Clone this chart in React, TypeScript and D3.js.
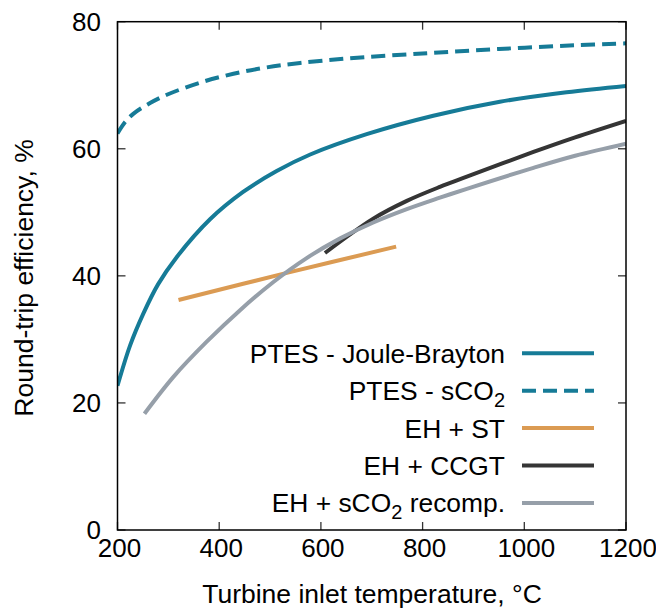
import React from "react";
import * as d3 from "d3";

const jbT = [200, 225, 251, 280, 316, 382, 447, 513, 579, 690, 821, 952, 1083, 1200];
const jbV = [22.7, 29.1, 34.1, 38.7, 42.9, 48.9, 53.2, 56.5, 59.1, 62.3, 65.2, 67.4, 68.9, 69.9];

const sco2T = [200, 215, 231, 264, 297, 362, 428, 493, 559, 651, 800, 950, 1100, 1200];
const sco2V = [62.4, 64.2, 65.5, 67.2, 68.5, 70.4, 71.8, 72.8, 73.5, 74.2, 75.0, 75.7, 76.3, 76.6];

const stT = [320, 535, 748];
const stV = [36.2, 40.5, 44.6];

const ccgtT = [608, 703, 769, 834, 887, 1018, 1100, 1200];
const ccgtV = [43.6, 49.0, 51.8, 54.0, 55.6, 59.5, 61.8, 64.4];

const recT = [253, 310, 375, 441, 506, 572, 638, 703, 769, 834, 887, 1018, 1100, 1200];
const recV = [18.3, 24.1, 29.6, 34.6, 39.0, 42.8, 45.9, 48.4, 50.5, 52.3, 53.7, 57.0, 58.9, 60.8];

const xTicks = [200, 400, 600, 800, 1000, 1200];
const yTicks = [0, 20, 40, 60, 80];

const FONT = "'Liberation Sans', Arial, Helvetica, sans-serif";

type Series = { name: string; sub?: string; after?: string; T: number[]; V: number[]; color: string; dash?: string };

const series: Series[] = [
  { name: "PTES - Joule-Brayton", T: jbT, V: jbV, color: "#167b97" },
  { name: "PTES - sCO", sub: "2", after: "", T: sco2T, V: sco2V, color: "#167b97", dash: "14 7" },
  { name: "EH + ST", T: stT, V: stV, color: "#db9b53" },
  { name: "EH + CCGT", T: ccgtT, V: ccgtV, color: "#353535" },
  { name: "EH + sCO", sub: "2", after: " recomp.", T: recT, V: recV, color: "#969fa9" },
];

export default function App() {
  const L = 117.5, R = 626, Tp = 21.7, B = 530;
  const x = d3.scaleLinear().domain([200, 1200]).range([L, R]);
  const y = d3.scaleLinear().domain([0, 80]).range([B, Tp]);
  const line = d3
    .line<[number, number]>()
    .x((d) => x(d[0]))
    .y((d) => y(d[1]))
    .curve(d3.curveCatmullRom.alpha(0.5));
  const tickLen = 8;
  const legX1 = 522, legX2 = 594, legTextX = 505;
  const legY0 = 353.3, legDy = 37.4;

  return (
    <svg width={656} height={609} style={{ position: "absolute", left: 0, top: 0, background: "#fff" }} fontFamily={FONT}>
      <rect x={0} y={0} width={656} height={609} fill="#fff" />
      <defs>
        <clipPath id="plot">
          <rect x={L} y={Tp} width={R - L} height={B - Tp} />
        </clipPath>
      </defs>
      {xTicks.map((t) => (
        <g key={"xt" + t}>
          <line x1={x(t)} x2={x(t)} y1={B} y2={B - tickLen} stroke="#333" strokeWidth={1.3} />
          <line x1={x(t)} x2={x(t)} y1={Tp} y2={Tp + tickLen} stroke="#333" strokeWidth={1.3} />
          <text x={x(t) + 2} y={557} textAnchor="middle" fontSize={26} fill="#000">
            {t}
          </text>
        </g>
      ))}
      {yTicks.map((t) => (
        <g key={"yt" + t}>
          <line x1={L} x2={L + tickLen} y1={y(t)} y2={y(t)} stroke="#333" strokeWidth={1.3} />
          <line x1={R} x2={R - tickLen} y1={y(t)} y2={y(t)} stroke="#333" strokeWidth={1.3} />
          <text x={101} y={y(t) + 9} textAnchor="end" fontSize={26} fill="#000">
            {t}
          </text>
        </g>
      ))}
      <g clipPath="url(#plot)">
        {series.map((s, i) => (
          <path
            key={"s" + i}
            d={line(s.T.map((t, j) => [t, s.V[j]] as [number, number])) || ""}
            fill="none"
            stroke={s.color}
            strokeWidth={4}
            strokeDasharray={s.dash}
          />
        ))}
      </g>
      <rect x={L} y={Tp} width={R - L} height={B - Tp} fill="none" stroke="#000" strokeWidth={1.5} />
      {series.map((s, i) => {
        const cy = legY0 + i * legDy;
        return (
          <g key={"lg" + i}>
            <text x={legTextX} y={cy + 9.5} textAnchor="end" fontSize={26.4} fill="#000">
              {s.name}
              {s.sub && (
                <tspan fontSize={20} dy={7}>
                  {s.sub}
                </tspan>
              )}
              {s.sub && s.after ? <tspan dy={-7}>{s.after}</tspan> : null}
            </text>
            <line x1={legX1} x2={legX2} y1={cy} y2={cy} stroke={s.color} strokeWidth={4} strokeDasharray={s.dash} />
          </g>
        );
      })}
      <text x={372} y={603} textAnchor="middle" fontSize={26.5} fill="#000">
        Turbine inlet temperature, °C
      </text>
      <text transform={`translate(33, 278) rotate(-90)`} textAnchor="middle" fontSize={26.5} fill="#000">
        Round-trip efficiency, %
      </text>
    </svg>
  );
}
